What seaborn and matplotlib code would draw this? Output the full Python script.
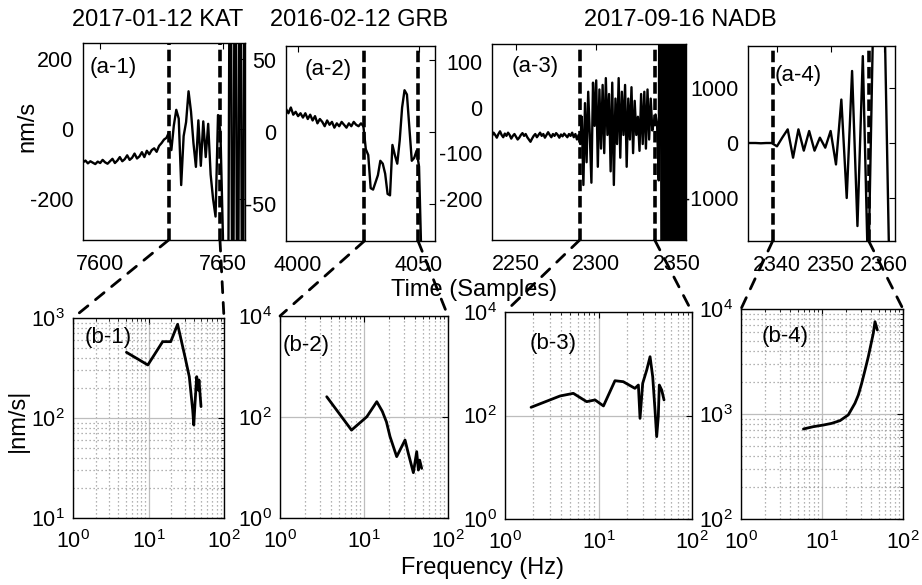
import numpy as np
import matplotlib
matplotlib.use("Agg")
import matplotlib.pyplot as plt
from matplotlib.patches import ConnectionPatch
from matplotlib.ticker import FixedLocator, LogLocator, LogFormatterSciNotation, NullFormatter
import seaborn as sns

# ---------------- data ----------------
titles = ["2017-01-12 KAT", "2016-02-12 GRB", "2017-09-16 NADB"]
top_labels = ["(a-1)", "(a-2)", "(a-3)", "(a-4)"]
bot_labels = ["(b-1)", "(b-2)", "(b-3)", "(b-4)"]

# (a-1) velocity in nm/s, one value per sample starting at a1_start
a1_start = 7592
a1_vel = [-92, -95, -90, -98, -92, -96, -100, -93, -97, -88,
          -95, -99, -92, -85, -97, -90, -80, -92, -86, -75,
          -88, -82, -70, -84, -78, -66, -80, -62, -72, -60,
          -55, -65, -48, -40, -30, -25, -10, -60, 10, 55,
          30, -160, -20, 20, 108, 50, -40, -108, 25, -105,
          22, -80, 15, -130, -200, -250, 40, -10, -305, -1000,
          -800, 1000, -1000, 1000, -1000, 1000, -1000, 1000]
a1_picks = [7627.9, 7648.8]

# (a-2)
a2_start = 3994
a2_vel = [15, 16, 13, 17, 12, 14, 11, 13, 10, 13,
          9, 12, 8, 11, 6, 9, 7, 4, 8, 5,
          7, 3, 6, 4, 7, 5, 3, 6, 4, 7,
          5, 4, 6, 4, -12, -16, -39, -40, -35, -30,
          -20, -22, -29, -43, -44, -9, -16, -22, -6, 17,
          29, 26, 3, -20, -18, -13, -24, -90, -150, -200,
          -250, -300, -330, -350]
a2_picks = [4027.4, 4049.6]

# (a-3)
a3_start = 2234
a3_vel = [-60, -62, -55, -60, -66, -58, -52, -60, -65, -57,
          -62, -55, -60, -68, -62, -58, -64, -70, -66, -60,
          -56, -62, -58, -65, -70, -75, -68, -62, -58, -65,
          -60, -55, -62, -58, -66, -60, -54, -60, -65, -58,
          -62, -56, -60, -66, -59, -63, -57, -61, -65, -58,
          -62, -55, -65, -58, -70, -60,
          -80, -20, -170, 10, -120, 35, -60, -165, 55, -40,
          60, -130, 40, -90, 50, -100, 65, -60, 30, -140,
          55, -170, 20, -80, 65, -110, 35, -60, 50, -130,
          20, -70, 45, -100, 15, -60, -20, -95, 30, -80,
          35, -90, 40, -70, 20, -50, -30, -15, -40, -160,
          1000, -1000, 1000, -1000, 1000, -1000, 1000, -1000, 1000, -1000,
          1000, -1000, 1000, -1000, 1000, -1000, 1000, -1000]
a3_picks = [2289.7, 2336.5]

# (a-4)
a4_start = 2334
a4_vel = [0, 0, 0, -5, 0, 0, -60, 100, 248, -267,
          248, -139, 218, -139, 97, -85, 218, -390, 790, -1000,
          1310, -1510, 1580, -2500, 2600, 2600, 2600, -2600, -2600]
a4_picks = [2339.2, 2357.1]

# spectra |nm/s| vs frequency (Hz)
b1_freq = [5.1, 9.8, 15.4, 19.7, 24.3, 30.4, 34.7, 38.5, 39.8, 41.3, 43.5, 45.7, 46.6, 49.6]
b1_amp = [454, 339, 580, 580, 865, 410, 259, 120, 85, 140, 259, 190, 240, 130]

b2_freq = [3.6, 7.1, 10.8, 14.2, 16.5, 18.5, 20.4, 24.5, 30.8, 33.7, 38.7, 42.4, 44.4, 46.0, 48.6]
b2_amp = [252, 55, 101, 201, 130, 80, 41, 16.4, 35, 19, 7.9, 20.6, 8.9, 14, 9.6]

b3_freq = [1.9, 3.87, 5.38, 7.47, 9.18, 11.3, 15.0, 18.4, 24.5, 26.7, 27.8, 29.7,
           32.8, 35.6, 38.0, 40.2, 41.9, 43.6, 44.7, 47.4, 50.2]
b3_amp = [144, 238, 268, 185, 200, 153, 470, 450, 335, 388, 88, 419,
          757, 1368, 560, 128, 39, 95, 388, 311, 200]

b4_freq = [5.9, 7.8, 10.4, 13.2, 16.7, 21.1, 25.5, 28.1, 30.9, 34.0, 37.3, 43.0, 45.1, 48.2]
b4_amp = [720, 757, 785, 815, 865, 980, 1265, 1517, 1960, 2624, 3515, 5870, 7570, 6310]

top_xticks = [[7600, 7650], [4000, 4050], [2250, 2300, 2350], [2340, 2350, 2360]]
top_yticks = [[-200, 0, 200], [-50, 0, 50], [-200, -100, 0, 100], [-1000, 0, 1000]]
bot_yticks = [[1e1, 1e2, 1e3], [1e0, 1e2, 1e4], [1e0, 1e2, 1e4], [1e2, 1e3, 1e4]]
freq_ticks = [1, 10, 100]

# ---------------- style ----------------
sns.set_theme(style="white")
plt.rcParams['font.family'] = ['Liberation Sans', 'DejaVu Sans']
plt.rcParams['mathtext.fontset'] = 'custom'
plt.rcParams['mathtext.rm'] = 'Liberation Sans'
plt.rcParams['mathtext.it'] = 'Liberation Sans:italic'
plt.rcParams['mathtext.bf'] = 'Liberation Sans:bold'
plt.rcParams['axes.unicode_minus'] = False
plt.rcParams['text.color'] = 'black'
plt.rcParams['axes.labelcolor'] = 'black'
plt.rcParams['xtick.color'] = 'black'
plt.rcParams['ytick.color'] = 'black'

W, H = 922, 585
fig = plt.figure(figsize=(W / 100, H / 100), dpi=100)
fig.patch.set_facecolor('white')


def rect(l, t, r, b):
    return [l / W, 1 - b / H, (r - l) / W, (b - t) / H]


TICK_FS = 15.5
LABEL_FS = 17
PANEL_FS = 16

top_rects = [rect(83, 43, 245, 240), rect(286, 46, 435, 241),
             rect(492, 44, 686, 240), rect(748, 46, 895, 241)]
top_xlims = [(7593, 7659), (3995, 4056.6), (2235, 2356), (2334.6, 2362)]
top_ylims = [(-317, 246), (-75.7, 59.7), (-291, 140), (-1782, 1764)]
top_lpos = [(0.043, 0.878), (0.128, 0.877), (0.103, 0.883), (0.184, 0.851)]

bot_rects = [rect(73, 318, 224, 518), rect(280, 316, 448, 518),
             rect(505, 312, 692, 519), rect(741, 309, 903, 519)]
bot_ylims = [(10, 1000), (1, 1e4), (1, 1e4), (100, 1e4)]
bot_yminor = [True, False, False, True]
bot_lpos = [(0.08, 0.905), (0.018, 0.856), (0.134, 0.85), (0.13, 0.867)]

starts = [a1_start, a2_start, a3_start, a4_start]
vels = [a1_vel, a2_vel, a3_vel, a4_vel]
picks = [a1_picks, a2_picks, a3_picks, a4_picks]
freqs = [b1_freq, b2_freq, b3_freq, b4_freq]
amps = [b1_amp, b2_amp, b3_amp, b4_amp]


def frame(ax):
    for s in ax.spines.values():
        s.set_visible(True)
        s.set_color('black')
        s.set_linewidth(1.0)


top_axes, bot_axes = [], []
for i in range(4):
    ax = fig.add_axes(top_rects[i])
    t = starts[i] + np.arange(len(vels[i]))
    sns.lineplot(x=t, y=vels[i], ax=ax, color='black', linewidth=1.7,
                 sort=False, estimator=None)
    for p in picks[i]:
        ax.axvline(p, color='black', linewidth=2.6, linestyle=(0, (3.2, 1.3)))
    ax.set_xlim(*top_xlims[i])
    ax.set_ylim(*top_ylims[i])
    ax.set_xticks(top_xticks[i])
    ax.set_yticks(top_yticks[i])
    ax.set_xlabel('')
    ax.set_ylabel('')
    ax.tick_params(axis='both', direction='in', length=4, width=0.8,
                   top=True, right=True, labelsize=TICK_FS, colors='black')
    ax.tick_params(axis='x', pad=10)
    ax.tick_params(axis='y', pad=7)
    frame(ax)
    ax.text(top_lpos[i][0], top_lpos[i][1], top_labels[i], transform=ax.transAxes,
            fontsize=PANEL_FS, va='center', ha='left', color='black')
    top_axes.append(ax)

for i in range(4):
    ax = fig.add_axes(bot_rects[i])
    sns.lineplot(x=freqs[i], y=amps[i], ax=ax, color='black', linewidth=2.0,
                 sort=False, estimator=None)
    ax.set_xscale('log')
    ax.set_yscale('log')
    ax.set_xlim(1, 100)
    ax.set_ylim(*bot_ylims[i])
    ax.xaxis.set_major_locator(FixedLocator(freq_ticks))
    ax.yaxis.set_major_locator(FixedLocator(bot_yticks[i]))
    ax.xaxis.set_major_formatter(LogFormatterSciNotation())
    ax.yaxis.set_major_formatter(LogFormatterSciNotation())
    ax.xaxis.set_minor_locator(LogLocator(base=10, subs=np.arange(2, 10)))
    ax.yaxis.set_minor_locator(LogLocator(base=10, subs=np.arange(2, 10)))
    ax.xaxis.set_minor_formatter(NullFormatter())
    ax.yaxis.set_minor_formatter(NullFormatter())
    ax.set_xlabel('')
    ax.set_ylabel('')
    ax.grid(which='major', color='#bdbdbd', linewidth=0.9, linestyle='-')
    ax.grid(which='minor', axis='x', color='#9a9a9a', linewidth=0.9, linestyle=(0, (1, 2.2)))
    if bot_yminor[i]:
        ax.grid(which='minor', axis='y', color='#9a9a9a', linewidth=0.9, linestyle=(0, (1, 2.2)))
    ax.set_axisbelow(True)
    ax.tick_params(axis='both', which='major', direction='in', length=4, width=0.8,
                   top=True, right=True, labelsize=TICK_FS, colors='black')
    ax.tick_params(axis='both', which='minor', direction='in', length=2, width=0.6,
                   top=True, right=True, colors='black')
    ax.tick_params(axis='x', which='major', pad=9)
    ax.tick_params(axis='y', which='major', pad=6)
    frame(ax)
    ax.text(bot_lpos[i][0], bot_lpos[i][1], bot_labels[i], transform=ax.transAxes,
            fontsize=PANEL_FS, va='center', ha='left', color='black')
    bot_axes.append(ax)

# zoom connectors from pick windows to spectra panels
for i in range(4):
    y0 = top_ylims[i][0]
    for k, corner in enumerate([(0, 1), (1, 1)]):
        con = ConnectionPatch(xyA=(picks[i][k], y0), coordsA=top_axes[i].transData,
                              xyB=corner, coordsB=bot_axes[i].transAxes,
                              color='black', linewidth=2.0, linestyle=(0, (4, 3.5)))
        fig.add_artist(con)

# titles and axis labels
fig.text(158 / W, 1 - 20 / H, titles[0], ha='center', va='center', fontsize=LABEL_FS, color='black')
fig.text(359 / W, 1 - 20 / H, titles[1], ha='center', va='center', fontsize=LABEL_FS, color='black')
fig.text(680 / W, 1 - 20 / H, titles[2], ha='center', va='center', fontsize=LABEL_FS, color='black')
fig.text(27 / W, 1 - 126 / H, "nm/s", rotation=90, ha='center', va='center', fontsize=LABEL_FS, color='black')
fig.text(474 / W, 1 - 290 / H, "Time (Samples)", ha='center', va='center', fontsize=LABEL_FS, color='black')
fig.text(18 / W, 1 - 420 / H, "|nm/s|", rotation=90, ha='center', va='center', fontsize=LABEL_FS, color='black')
fig.text(482 / W, 1 - 568 / H, "Frequency (Hz)", ha='center', va='center', fontsize=LABEL_FS, color='black')

fig.savefig("out.png", dpi=100, facecolor='white')
